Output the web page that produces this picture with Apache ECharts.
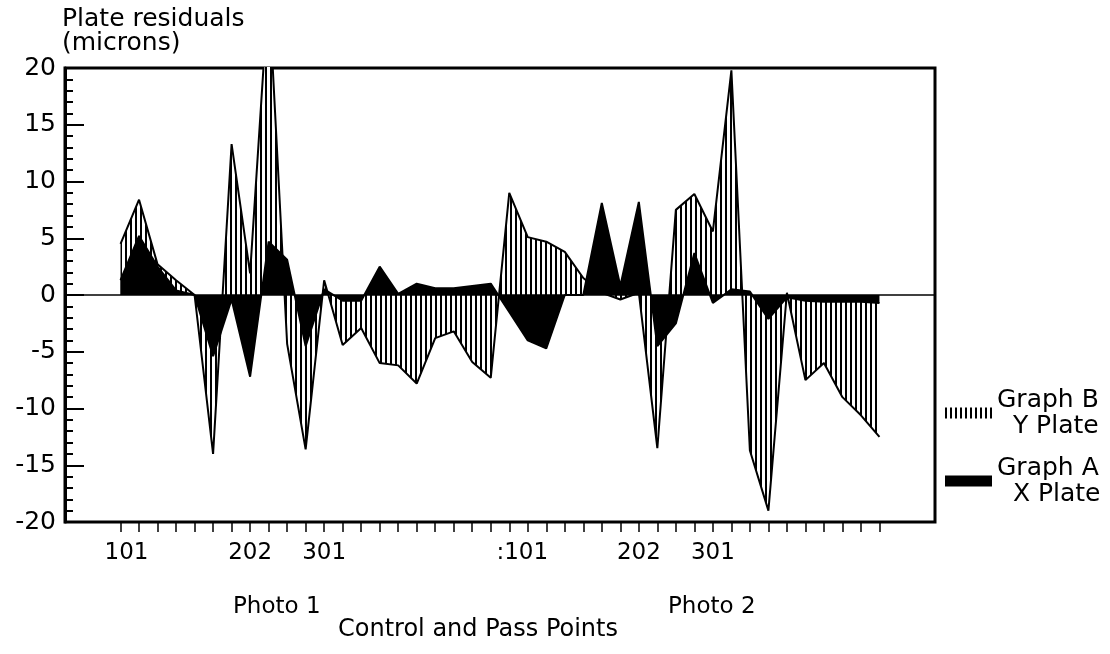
<!DOCTYPE html>
<html><head><meta charset="utf-8">
<script src="https://cdn.jsdelivr.net/npm/echarts@6/dist/echarts.min.js"></script>
<style>html,body{margin:0;padding:0;background:#fff}#c{width:1110px;height:654px}</style>
</head><body><div id="c"></div>
<script>
// point index along the x axis (control and pass points, photo 1 then photo 2)
const pointIndex = [0,1,2,3,4,5,6,7,8,9,10,11,12,13,14,15,16,17,18,19,20,21,22,23,24,25,26,27,28,29,30,31,32,33,34,35,36,37,38,39,40,41];
// Graph B: Y plate residuals (microns)
const yPlate = [4.5, 8.4, 2.7, 1.3, 0, -14.0, 13.3, 1.9, 27.0, -4.3, -13.6, 1.3, -4.4, -2.9, -6.0, -6.2, -7.8, -3.8, -3.2, -5.9, -7.3,
                9.0, 5.1, 4.7, 3.8, 1.5, 0.2, -0.4, 0.2, -13.5, 7.5, 8.9, 5.6, 19.8, -13.7, -19.0, 0.2, -7.5, -6.0, -9.0, -10.6, -12.5];
// Graph A: X plate residuals (microns)
const xPlate = [1.3, 5.2, 2.5, 0.4, 0, -5.4, -0.4, -7.2, 4.7, 3.1, -4.5, 0.5, -0.5, -0.5, 2.5, 0.1, 1.0, 0.6, 0.6, 0.8, 1.0,
                -1.5, -4.0, -4.7, 0, 0, 8.1, 0.8, 8.2, -4.5, -2.5, 3.7, -0.7, 0.5, 0.3, -2.1, -0.2, -0.5, -0.6, -0.6, -0.6, -0.7];
// labelled points on the x axis
const tickLabelPos = [0, 7, 11, 21, 28, 32];
const tickLabelText = ['101', '202', '301', ':101', '202', '301'];
const legendNames = ['Graph B', 'Graph A'];
const legendSub = ['Y Plate', 'X Plate'];

const FONT = 'DejaVu Sans';
const hatch = document.createElement('canvas');
hatch.width = 5; hatch.height = 10;
const hctx = hatch.getContext('2d');
hctx.fillStyle = '#fff'; hctx.fillRect(0, 0, 5, 10);
hctx.fillStyle = '#000'; hctx.fillRect(0, 0, 2, 10);
const hatchPattern = { image: hatch, repeat: 'repeat' };

const chart = echarts.init(document.getElementById('c'), null, { renderer: 'canvas' });
const labelMap = {};
tickLabelPos.forEach((p, i) => { labelMap[p] = tickLabelText[i]; });

chart.setOption({
  animation: false,
  backgroundColor: '#fff',
  textStyle: { fontFamily: FONT, color: '#000' },
  title: [
    { text: 'Plate residuals\n(microns)', left: 57, top: 2,
      textStyle: { fontFamily: FONT, fontSize: 25, fontWeight: 'normal', color: '#000', lineHeight: 24 } },
    { text: 'Photo 1', left: 228, top: 591,
      textStyle: { fontFamily: FONT, fontSize: 23, fontWeight: 'normal', color: '#000' } },
    { text: 'Photo 2', left: 663, top: 591,
      textStyle: { fontFamily: FONT, fontSize: 23, fontWeight: 'normal', color: '#000' } }
  ],
  legend: {
    orient: 'vertical', left: 945, top: 368, padding: 0,
    itemWidth: 47, itemHeight: 11, itemGap: -22, icon: 'rect',
    selectedMode: false,
    data: [
      { name: legendNames[0], itemStyle: { color: hatchPattern, borderWidth: 0 } },
      { name: legendNames[1], itemStyle: { color: '#000', borderWidth: 0 } }
    ],
    formatter: n => n + '\n  ' + legendSub[legendNames.indexOf(n)],
    textStyle: { fontFamily: FONT, fontSize: 25, color: '#000', lineHeight: 26, padding: [38, 0, 0, 0] }
  },
  grid: { left: 65, right: 175, top: 68, bottom: 132, show: true, borderColor: '#000', borderWidth: 3, containLabel: false },
  xAxis: {
    type: 'value', min: -3, max: 44, offset: 10,
    axisLine: { show: false, onZero: false },
    axisTick: { show: true, inside: true, customValues: pointIndex, length: 9, lineStyle: { color: '#000', width: 1.5 } },
    axisLabel: {
      customValues: tickLabelPos, color: '#000', fontFamily: FONT, fontSize: 23, margin: 10,
      formatter: v => {
        const t = labelMap[Math.round(v)] || '';
        return t.charAt(0) === ':' ? '{c|' + t + '}' : (t === '101' ? '{a|' + t + '}' : t);
      },
      rich: {
        a: { fontFamily: FONT, fontSize: 23, color: '#000', padding: [0, 0, 0, 12] },
        c: { fontFamily: FONT, fontSize: 23, color: '#000', padding: [0, 0, 0, 26] }
      }
    },
    splitLine: { show: false },
    name: 'Control and Pass Points', nameLocation: 'middle', nameGap: 86,
    nameTextStyle: { fontFamily: FONT, fontSize: 24, color: '#000', padding: [0, 44, 0, 0] }
  },
  yAxis: {
    type: 'value', min: -20, max: 20, interval: 5,
    axisLine: { show: true, onZero: false, lineStyle: { color: '#000', width: 3 } },
    axisTick: { show: true, inside: true, length: 19, lineStyle: { color: '#000', width: 2 } },
    minorTick: { show: true, splitNumber: 5, length: 8, lineStyle: { color: '#000', width: 2 } },
    splitLine: { show: false },
    minorSplitLine: { show: false },
    axisLabel: { color: '#000', fontFamily: FONT, fontSize: 25, margin: 9 }
  },
  series: [
    {
      name: legendNames[0], type: 'line', symbol: 'none', showSymbol: false, clip: true,
      data: pointIndex.map((p, i) => [p, yPlate[i]]),
      lineStyle: { color: '#000', width: 2 },
      itemStyle: { color: '#000' },
      areaStyle: { color: hatchPattern, opacity: 1 },
      emphasis: { disabled: true },
      markLine: {
        silent: true, symbol: 'none', label: { show: false },
        lineStyle: { color: '#000', width: 1.5, type: 'solid' },
        data: [{ yAxis: 0 }]
      },
      z: 2
    },
    {
      name: legendNames[1], type: 'line', symbol: 'none', showSymbol: false, clip: true,
      data: pointIndex.map((p, i) => [p, xPlate[i]]),
      lineStyle: { color: '#000', width: 2 },
      itemStyle: { color: '#000' },
      areaStyle: { color: '#000', opacity: 1 },
      emphasis: { disabled: true },
      z: 3
    }
  ]
});
</script></body></html>
